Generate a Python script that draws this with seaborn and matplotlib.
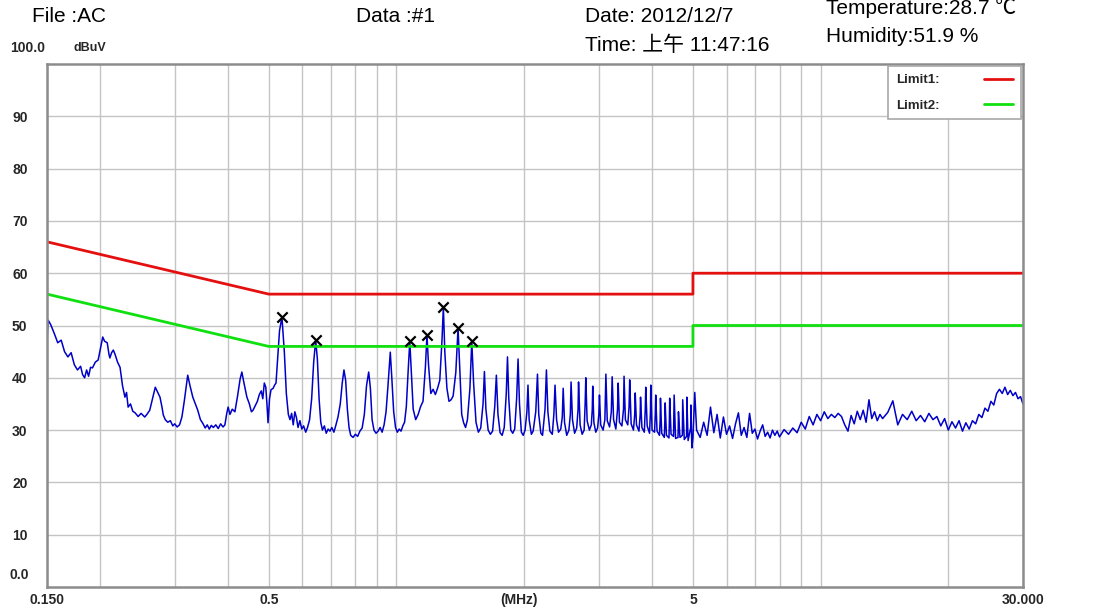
import matplotlib
matplotlib.use('Agg')
import matplotlib.pyplot as plt
import pandas as pd
import seaborn as sns

# ---- data ----
# conducted emission trace (MHz, dBuV), three bands
band_low = [
    (0.150, 47.6), (0.151, 51.0), (0.153, 50.2), (0.156, 48.5), (0.159, 46.7), (0.162, 47.2),
    (0.165, 45.0), (0.168, 44.0), (0.171, 44.8), (0.174, 42.5), (0.177, 41.5), (0.180, 42.2),
    (0.182, 40.6), (0.184, 40.0), (0.186, 41.5), (0.188, 40.3), (0.190, 42.0), (0.192, 41.9),
    (0.195, 43.0), (0.198, 43.4), (0.201, 46.0), (0.203, 47.8), (0.205, 47.0), (0.208, 46.7),
    (0.210, 44.5), (0.211, 43.8), (0.213, 44.8), (0.215, 45.3), (0.217, 44.5), (0.220, 43.0),
    (0.223, 42.0), (0.226, 38.5), (0.229, 36.3), (0.231, 37.2), (0.233, 34.4), (0.236, 35.0),
    (0.239, 33.6), (0.242, 33.3), (0.246, 32.6), (0.250, 33.2), (0.255, 32.5), (0.258, 33.0),
    (0.262, 33.8), (0.266, 36.0), (0.270, 38.2), (0.273, 37.4), (0.277, 36.3), (0.280, 34.4),
    (0.282, 32.9), (0.285, 32.0), (0.289, 31.5), (0.293, 31.8), (0.297, 30.8), (0.300, 31.2),
    (0.304, 30.6), (0.308, 31.0), (0.312, 32.5), (0.316, 35.5), (0.322, 40.5), (0.326, 38.5),
    (0.331, 36.3), (0.335, 35.2), (0.340, 33.8), (0.345, 32.0), (0.350, 31.2), (0.354, 30.4),
    (0.358, 31.0), (0.362, 30.2), (0.366, 30.9), (0.370, 30.5), (0.375, 31.0), (0.380, 30.3),
    (0.385, 31.2), (0.390, 30.6), (0.394, 31.0), (0.398, 33.2), (0.401, 34.4), (0.405, 33.0),
    (0.410, 34.0), (0.416, 33.5), (0.422, 36.5), (0.428, 39.8), (0.432, 41.1), (0.437, 39.0),
    (0.444, 36.3), (0.450, 35.0), (0.455, 33.5), (0.459, 33.8), (0.464, 34.6), (0.470, 35.5),
    (0.475, 36.8), (0.480, 37.5), (0.484, 36.0), (0.488, 39.0), (0.492, 38.2), (0.495, 35.0),
    (0.498, 31.4), (0.502, 36.0), (0.506, 37.7), (0.512, 38.0), (0.516, 38.6), (0.520, 39.0),
    (0.525, 44.0), (0.530, 49.0), (0.537, 51.6),
]

band_mid = [
    (0.544, 45.0), (0.550, 37.0), (0.556, 33.0), (0.561, 32.0), (0.566, 33.2), (0.571, 31.0),
    (0.576, 33.5), (0.581, 32.4), (0.586, 30.5), (0.592, 31.8), (0.598, 30.2), (0.604, 30.8),
    (0.611, 29.6), (0.617, 30.5), (0.624, 32.0), (0.631, 36.0), (0.638, 43.0), (0.645, 47.2),
    (0.651, 43.5), (0.657, 36.0), (0.663, 31.5), (0.669, 30.0), (0.676, 30.8), (0.683, 29.4),
    (0.690, 30.2), (0.697, 29.8), (0.704, 30.5), (0.712, 29.6), (0.720, 31.0), (0.728, 32.5),
    (0.737, 35.0), (0.745, 39.0), (0.752, 41.5), (0.759, 39.5), (0.766, 34.0), (0.773, 30.5),
    (0.780, 29.0), (0.790, 28.6), (0.800, 29.2), (0.810, 28.8), (0.820, 29.8), (0.830, 30.4),
    (0.840, 33.0), (0.850, 38.5), (0.860, 41.1), (0.868, 38.0), (0.876, 32.0), (0.885, 30.0),
    (0.895, 29.4), (0.905, 29.8), (0.915, 30.5), (0.925, 29.6), (0.935, 31.0), (0.945, 33.5),
    (0.955, 38.5), (0.967, 44.9), (0.975, 40.0), (0.985, 33.5), (0.995, 30.5), (1.005, 29.6),
    (1.015, 30.2), (1.025, 29.8), (1.035, 30.8), (1.045, 31.5), (1.055, 34.5), (1.065, 41.0),
    (1.075, 47.0), (1.085, 40.5), (1.095, 34.0), (1.110, 32.0), (1.125, 33.0), (1.140, 34.5),
    (1.155, 35.5), (1.170, 42.0), (1.180, 48.2), (1.190, 42.5), (1.205, 37.0), (1.220, 37.8),
    (1.235, 36.8), (1.250, 38.0), (1.265, 39.5), (1.280, 47.0), (1.290, 53.5), (1.300, 45.0),
    (1.315, 38.0), (1.330, 35.5), (1.345, 35.8), (1.360, 36.5), (1.380, 41.0), (1.397, 49.5),
    (1.410, 42.0), (1.425, 33.0), (1.440, 31.4), (1.455, 30.5), (1.470, 32.0), (1.490, 38.0),
    (1.505, 47.0), (1.520, 39.0), (1.540, 31.5), (1.560, 29.6), (1.580, 30.4), (1.600, 35.0),
    (1.612, 41.2), (1.625, 34.0), (1.645, 30.0), (1.665, 29.2), (1.685, 29.8), (1.705, 34.5),
    (1.720, 40.5), (1.735, 33.0), (1.755, 29.5), (1.775, 29.0), (1.795, 30.5), (1.815, 37.0),
    (1.827, 44.0), (1.840, 36.0), (1.860, 30.0), (1.880, 29.4), (1.900, 30.2), (1.920, 36.0),
    (1.935, 43.6), (1.950, 35.0), (1.970, 29.6), (1.990, 29.0), (2.010, 30.0), (2.030, 33.5),
    (2.042, 38.6), (2.055, 32.0), (2.080, 29.2), (2.100, 29.8), (2.130, 33.5), (2.150, 40.7),
    (2.165, 33.0), (2.190, 29.4), (2.210, 29.0), (2.240, 34.0), (2.257, 41.5), (2.275, 33.5),
    (2.300, 29.8), (2.330, 29.2), (2.350, 33.0), (2.365, 38.6), (2.385, 32.0), (2.410, 29.6),
    (2.440, 30.2), (2.460, 32.5), (2.472, 38.0), (2.490, 31.5), (2.520, 29.0), (2.550, 30.0),
    (2.570, 33.0), (2.580, 39.2), (2.600, 32.0), (2.630, 29.4), (2.660, 30.4), (2.680, 34.0),
    (2.687, 39.2), (2.710, 31.0), (2.740, 29.2), (2.770, 30.0), (2.785, 35.0), (2.795, 40.0),
    (2.815, 31.8), (2.850, 30.0), (2.880, 31.0), (2.895, 34.0), (2.902, 38.4), (2.920, 31.5),
    (2.950, 29.6), (2.980, 30.4), (3.000, 33.0), (3.010, 36.7), (3.030, 31.0), (3.070, 30.0),
    (3.100, 32.0), (3.117, 40.7), (3.140, 31.8), (3.180, 30.6), (3.210, 33.5), (3.225, 40.2),
    (3.250, 32.0), (3.290, 30.2), (3.320, 34.0), (3.332, 39.0), (3.355, 31.5), (3.400, 30.8),
    (3.430, 34.0), (3.440, 40.3), (3.465, 32.0), (3.510, 31.0), (3.535, 34.5), (3.547, 39.6),
    (3.575, 31.2), (3.620, 30.0), (3.645, 33.0), (3.655, 37.1), (3.680, 31.0), (3.730, 29.8),
    (3.755, 33.0), (3.762, 36.3), (3.790, 30.5), (3.840, 29.6), (3.860, 34.0), (3.870, 38.2),
    (3.900, 30.8), (3.950, 29.4), (3.970, 33.5), (3.977, 38.6), (4.005, 30.0), (4.060, 29.6),
    (4.075, 33.0), (4.085, 36.7), (4.115, 29.8), (4.170, 29.0), (4.185, 32.0), (4.192, 36.1),
    (4.220, 29.4), (4.280, 28.6), (4.292, 31.5), (4.300, 35.2), (4.330, 29.0), (4.390, 28.5),
    (4.400, 32.0), (4.407, 36.1), (4.440, 29.2), (4.500, 28.8), (4.508, 32.5), (4.515, 36.7),
    (4.550, 28.4), (4.610, 28.6), (4.617, 30.5), (4.622, 33.5), (4.660, 28.6), (4.720, 29.0),
    (4.725, 32.0), (4.730, 35.8), (4.770, 28.2), (4.830, 28.8), (4.835, 32.0), (4.837, 36.3),
    (4.870, 28.0), (4.940, 30.5), (4.945, 34.8), (4.970, 26.6), (5.000, 28.5),
]

band_high = [
    (5.05, 37.2), (5.1, 30.0), (5.2, 28.6), (5.3, 31.5), (5.4, 29.0), (5.5, 34.4),
    (5.6, 29.5), (5.7, 33.0), (5.8, 28.5), (5.9, 32.5), (6.0, 29.2), (6.1, 30.8),
    (6.2, 28.4), (6.3, 31.2), (6.4, 33.3), (6.5, 29.0), (6.6, 30.5), (6.7, 28.6),
    (6.8, 33.2), (6.9, 29.4), (7.0, 30.2), (7.1, 28.3), (7.2, 29.8), (7.3, 31.0),
    (7.4, 28.8), (7.5, 29.6), (7.6, 28.5), (7.7, 30.0), (7.8, 29.0), (7.9, 29.8),
    (8.0, 28.7), (8.2, 30.1), (8.4, 29.2), (8.6, 30.4), (8.8, 29.5), (9.0, 31.5),
    (9.2, 30.2), (9.4, 32.6), (9.6, 31.0), (9.8, 33.0), (10.0, 31.8), (10.2, 33.5),
    (10.4, 32.2), (10.6, 33.0), (10.8, 32.4), (11.0, 33.2), (11.2, 32.6), (11.4, 31.0),
    (11.6, 29.8), (11.8, 32.8), (12.0, 31.2), (12.2, 33.6), (12.4, 32.0), (12.6, 33.8),
    (12.8, 31.5), (13.0, 35.8), (13.2, 32.2), (13.4, 33.5), (13.6, 31.8), (13.8, 33.0),
    (14.0, 32.2), (14.4, 33.4), (14.8, 35.6), (15.2, 31.0), (15.6, 33.0), (16.0, 32.0),
    (16.4, 33.6), (16.8, 31.8), (17.2, 32.8), (17.6, 31.6), (18.0, 33.2), (18.4, 32.0),
    (18.8, 32.6), (19.2, 30.8), (19.6, 32.2), (20.0, 30.0), (20.4, 31.6), (20.8, 30.4),
    (21.2, 31.8), (21.6, 29.8), (22.0, 31.4), (22.4, 30.2), (22.8, 31.8), (23.2, 31.2),
    (23.6, 33.0), (24.0, 32.4), (24.4, 34.2), (24.8, 33.6), (25.2, 35.5), (25.6, 34.8),
    (26.0, 37.0), (26.4, 37.8), (26.8, 37.0), (27.2, 38.2), (27.6, 36.8), (28.0, 37.6),
    (28.4, 36.6), (28.8, 37.2), (29.2, 36.0), (29.6, 36.4), (30.0, 35.0),
]

# limit lines (CISPR class B style)
limit_mhz = [0.15, 0.5, 5, 5, 30]
limit1_dbuv = [66, 56, 56, 60, 60]
limit2_dbuv = [56, 46, 46, 50, 50]

# peak markers
marker_mhz = [0.537, 0.645, 1.075, 1.180, 1.290, 1.397, 1.505]
marker_dbuv = [51.6, 47.2, 47.0, 48.2, 53.5, 49.5, 47.0]

xtick_vals = [0.15, 0.5, 5, 30]
xtick_labels = ['0.150', '0.5', '5', '30.000']
xgrid_vals = [0.2, 0.3, 0.4, 0.6, 0.7, 0.8, 0.9, 1, 2, 3, 4, 6, 7, 8, 9, 10, 20]
ytick_vals = [10, 20, 30, 40, 50, 60, 70, 80, 90]

trace = pd.DataFrame(band_low + band_mid + band_high, columns=['MHz', 'dBuV'])

# ---- style ----
sns.set_style('white')
plt.rcParams['font.family'] = ['Liberation Sans', 'Noto Sans CJK SC', 'DejaVu Sans']
narrow = ['Liberation Sans Narrow', 'Liberation Sans', 'DejaVu Sans']

W, H = 1093, 610
fig = plt.figure(figsize=(W / 100, H / 100), dpi=100)
L, R, T, B = 47, 1023, 64, 587
ax = fig.add_axes([L / W, 1 - B / H, (R - L) / W, (B - T) / H])

sns.lineplot(data=trace, x='MHz', y='dBuV', ax=ax, color='#0000c8', linewidth=1.1,
             estimator=None, sort=False)
sns.lineplot(x=limit_mhz, y=limit1_dbuv, ax=ax, color='#e41010', linewidth=2,
             estimator=None, sort=False, label='Limit1:')
sns.lineplot(x=limit_mhz, y=limit2_dbuv, ax=ax, color='#10e010', linewidth=2,
             estimator=None, sort=False, label='Limit2:')
sns.scatterplot(x=marker_mhz, y=marker_dbuv, ax=ax, marker='x', color='black',
                s=55, linewidth=1.6, zorder=5)

ax.set_xscale('log')
ax.set_xlim(0.15, 30)
ax.set_ylim(0, 100)
ax.set_xticks(xtick_vals)
ax.set_xticklabels(xtick_labels, fontweight='bold', fontsize=10, family=narrow)
ax.set_xticks(xgrid_vals, minor=True)
ax.set_xticklabels([''] * len(xgrid_vals), minor=True)
ax.set_yticks(ytick_vals)
ax.set_yticklabels([str(v) for v in ytick_vals], fontweight='bold', fontsize=10, family=narrow)
ax.tick_params(axis='both', which='both', length=0)
ax.tick_params(axis='x', pad=4)
ax.tick_params(axis='y', pad=14)
ax.grid(True, which='both', axis='x', color='#c4c4c4', linewidth=1)
ax.grid(True, which='major', axis='y', color='#c4c4c4', linewidth=1)
ax.set_xlabel('')
ax.set_ylabel('')
for sp in ax.spines.values():
    sp.set_color('#8c8c8c')
    sp.set_linewidth(1.8)

leg = ax.legend(loc='upper right', markerfirst=False, fancybox=False, frameon=True,
                edgecolor='#a8a8a8', framealpha=1, handlelength=2.2, handletextpad=3.4,
                labelspacing=1.0, borderpad=0.6, borderaxespad=0.15,
                prop={'weight': 'bold', 'size': 9.5, 'family': narrow})
leg.get_frame().set_linewidth(1.2)


def px(x, y):
    return x / W, 1 - y / H


# header texts
head = dict(fontsize=15, va='center', ha='left', color='black')
fig.text(*px(32, 17), 'File :AC', **head)
fig.text(*px(356, 17), 'Data :#1', **head)
fig.text(*px(585, 17), 'Date: 2012/12/7', **head)
fig.text(*px(585, 45), 'Time: 上午 11:47:16', **head)
fig.text(*px(826, 8), 'Temperature:28.7 ℃', **head)
fig.text(*px(826, 37), 'Humidity:51.9 %', **head)

# axis end labels and unit
fig.text(*px(10, 48), '100.0', fontsize=10, fontweight='bold', va='center', ha='left', family=narrow)
fig.text(*px(73, 48), 'dBuV', fontsize=9, fontweight='bold', va='center', ha='left', family=narrow)
fig.text(*px(10, 575), '0.0', fontsize=10, fontweight='bold', va='center', ha='left', family=narrow)
fig.text(*px(519, 600), '(MHz)', fontsize=10, fontweight='bold', va='center', ha='center', family=narrow)

fig.savefig('out.png', dpi=100)
